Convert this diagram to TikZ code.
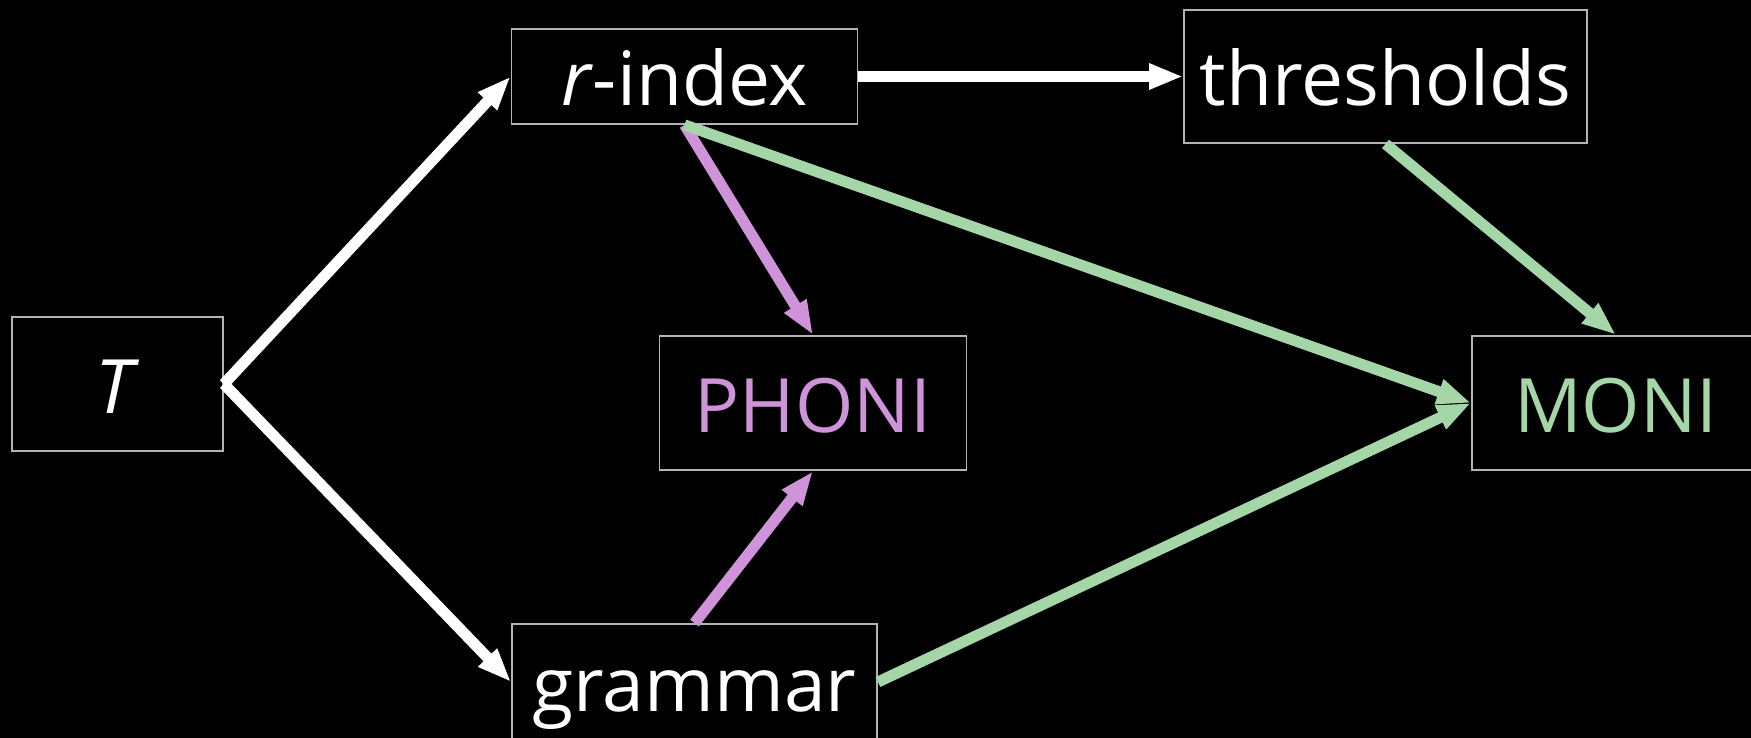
\documentclass[tikz,border=0pt]{standalone}
\usepackage{fontspec}
\setmainfont{Open Sans}
\usetikzlibrary{arrows.meta}
\definecolor{phonicol}{HTML}{CE93D8}
\definecolor{monicol}{HTML}{A5D6A7}
\definecolor{boxline}{HTML}{B4B4B4}
\begin{document}
\begin{tikzpicture}[x=1pt,y=-1pt,
  box/.style={draw=boxline, line width=1.8pt, fill=black, text=white, inner sep=0pt,
    text height=58pt, text depth=0pt, font=\fontsize{75}{90}\selectfont},
  conn/.style={line width=11pt, -{Triangle[length=34pt,width=24pt]}},
  wconn/.style={conn, draw=white},
  pconn/.style={conn, draw=phonicol},
  gconn/.style={conn, draw=monicol},
]
\fill[black] (0,0) rectangle (1751,738);
\useasboundingbox (0,0) rectangle (1751,738);
\node[box, minimum width=211pt, minimum height=134pt] (T) at (117.5,384) {\textit{T}};
\node[box, minimum width=346pt, minimum height=95pt] (rindex) at (684.5,76.5) {\textit{r}-index};
\node[box, minimum width=403pt, minimum height=133pt] (thresh) at (1385.5,76.5) {thresholds};
\node[box, minimum width=307pt, minimum height=134.5pt, text=phonicol] (phoni) at (813,403) {PHONI};
\node[box, minimum width=288pt, minimum height=134.5pt, text=monicol] (moni) at (1616,403) {MONI};
\node[box, minimum width=365pt, minimum height=116pt] (grammar) at (694.5,682) {grammar};
\draw[wconn] (T.east) -- (rindex.west);
\draw[wconn] (T.east) -- (grammar.west);
\draw[wconn] (rindex.east) -- (thresh.west);
\draw[pconn] (rindex.south) -- (phoni.north);
\draw[gconn] (rindex.south) -- (moni.west);
\draw[gconn] (thresh.south) -- (moni.north);
\draw[pconn] (grammar.north) -- (phoni.south);
\draw[gconn] (grammar.east) -- (moni.west);
\end{tikzpicture}
\end{document}
